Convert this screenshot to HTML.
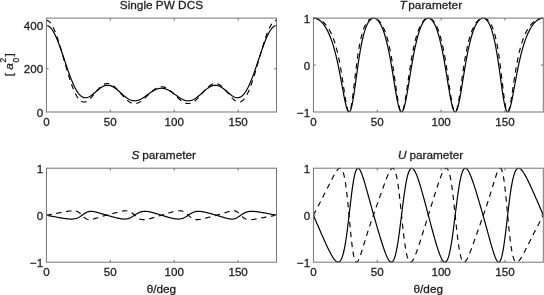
<!DOCTYPE html>
<html><head><meta charset="utf-8"><title>Spin parameters</title>
<style>
html,body{margin:0;padding:0;background:#fff;}
svg{display:block;}
text{font-family:"Liberation Sans",sans-serif;font-size:11.8px;fill:#1c1c1c;stroke:#1c1c1c;stroke-width:0.28px;}
.it{font-style:italic;}
.tl{font-size:11.6px;}
.ax{fill:none;stroke:#6e6e6e;stroke-width:0.95;}
.tk{stroke:#6e6e6e;stroke-width:1;fill:none;}
.s{fill:none;stroke:#000;stroke-width:1.2;stroke-linejoin:round;}
.d{fill:none;stroke:#000;stroke-width:1.15;stroke-dasharray:5.4 4.6;stroke-linejoin:round;}
</style></head><body>
<svg width="544" height="295" viewBox="0 0 544 295">
<rect width="544" height="295" fill="#fff"/>
<g>
<clipPath id="cdcs"><rect x="46.4" y="17.5" width="230.1" height="95.10000000000001"/></clipPath>
<g clip-path="url(#cdcs)"><path class="d" d="M46.40,20.33 L47.04,20.39 L47.68,20.58 L48.32,20.91 L48.96,21.35 L49.60,21.93 L50.23,22.62 L50.87,23.44 L51.51,24.38 L52.15,25.43 L52.79,26.59 L53.43,27.86 L54.07,29.23 L54.71,30.71 L55.35,32.27 L55.99,33.93 L56.63,35.67 L57.27,37.48 L57.91,39.37 L58.54,41.33 L59.18,43.34 L59.82,45.40 L60.46,47.51 L61.10,49.66 L61.74,51.85 L62.38,54.05 L63.02,56.28 L63.66,58.51 L64.30,60.75 L64.94,62.98 L65.57,65.21 L66.21,67.41 L66.85,69.60 L67.49,71.75 L68.13,73.86 L68.77,75.94 L69.41,77.96 L70.05,79.93 L70.69,81.83 L71.33,83.67 L71.97,85.45 L72.61,87.14 L73.25,88.76 L73.88,90.29 L74.52,91.74 L75.16,93.10 L75.80,94.37 L76.44,95.54 L77.08,96.62 L77.72,97.59 L78.36,98.48 L79.00,99.26 L79.64,99.94 L80.28,100.53 L80.91,101.01 L81.55,101.40 L82.19,101.70 L82.83,101.90 L83.47,102.02 L84.11,102.04 L84.75,101.98 L85.39,101.85 L86.03,101.63 L86.67,101.34 L87.31,100.98 L87.95,100.56 L88.58,100.07 L89.22,99.54 L89.86,98.95 L90.50,98.32 L91.14,97.65 L91.78,96.95 L92.42,96.22 L93.06,95.47 L93.70,94.71 L94.34,93.93 L94.98,93.15 L95.62,92.37 L96.25,91.59 L96.89,90.83 L97.53,90.08 L98.17,89.36 L98.81,88.66 L99.45,87.99 L100.09,87.35 L100.73,86.75 L101.37,86.20 L102.01,85.69 L102.65,85.23 L103.29,84.81 L103.92,84.46 L104.56,84.15 L105.20,83.91 L105.84,83.72 L106.48,83.59 L107.12,83.51 L107.76,83.50 L108.40,83.55 L109.04,83.66 L109.68,83.82 L110.32,84.04 L110.96,84.32 L111.59,84.64 L112.23,85.02 L112.87,85.45 L113.51,85.93 L114.15,86.44 L114.79,87.00 L115.43,87.59 L116.07,88.22 L116.71,88.87 L117.35,89.55 L117.99,90.25 L118.63,90.97 L119.26,91.70 L119.90,92.44 L120.54,93.18 L121.18,93.93 L121.82,94.67 L122.46,95.40 L123.10,96.12 L123.74,96.83 L124.38,97.52 L125.02,98.18 L125.66,98.82 L126.30,99.43 L126.94,100.00 L127.57,100.54 L128.21,101.04 L128.85,101.50 L129.49,101.92 L130.13,102.29 L130.77,102.62 L131.41,102.89 L132.05,103.12 L132.69,103.30 L133.33,103.43 L133.97,103.51 L134.60,103.53 L135.24,103.51 L135.88,103.44 L136.52,103.32 L137.16,103.14 L137.80,102.93 L138.44,102.67 L139.08,102.36 L139.72,102.02 L140.36,101.63 L141.00,101.21 L141.64,100.75 L142.28,100.27 L142.91,99.75 L143.55,99.21 L144.19,98.65 L144.83,98.07 L145.47,97.47 L146.11,96.86 L146.75,96.25 L147.39,95.62 L148.03,95.00 L148.67,94.38 L149.31,93.76 L149.94,93.15 L150.58,92.55 L151.22,91.97 L151.86,91.40 L152.50,90.86 L153.14,90.34 L153.78,89.85 L154.42,89.38 L155.06,88.95 L155.70,88.55 L156.34,88.19 L156.98,87.87 L157.62,87.58 L158.25,87.34 L158.89,87.14 L159.53,86.98 L160.17,86.87 L160.81,86.80 L161.45,86.78 L162.09,86.80 L162.73,86.87 L163.37,86.98 L164.01,87.14 L164.65,87.34 L165.28,87.58 L165.92,87.87 L166.56,88.19 L167.20,88.55 L167.84,88.95 L168.48,89.38 L169.12,89.85 L169.76,90.34 L170.40,90.86 L171.04,91.40 L171.68,91.97 L172.32,92.55 L172.96,93.15 L173.59,93.76 L174.23,94.38 L174.87,95.00 L175.51,95.62 L176.15,96.25 L176.79,96.86 L177.43,97.47 L178.07,98.07 L178.71,98.65 L179.35,99.21 L179.99,99.75 L180.62,100.27 L181.26,100.75 L181.90,101.21 L182.54,101.63 L183.18,102.02 L183.82,102.36 L184.46,102.67 L185.10,102.93 L185.74,103.14 L186.38,103.32 L187.02,103.44 L187.66,103.51 L188.30,103.53 L188.93,103.51 L189.57,103.43 L190.21,103.30 L190.85,103.12 L191.49,102.89 L192.13,102.62 L192.77,102.29 L193.41,101.92 L194.05,101.50 L194.69,101.04 L195.33,100.54 L195.97,100.00 L196.60,99.43 L197.24,98.82 L197.88,98.18 L198.52,97.52 L199.16,96.83 L199.80,96.12 L200.44,95.40 L201.08,94.67 L201.72,93.93 L202.36,93.18 L203.00,92.44 L203.64,91.70 L204.27,90.97 L204.91,90.25 L205.55,89.55 L206.19,88.87 L206.83,88.22 L207.47,87.59 L208.11,87.00 L208.75,86.44 L209.39,85.93 L210.03,85.45 L210.67,85.02 L211.31,84.64 L211.94,84.32 L212.58,84.04 L213.22,83.82 L213.86,83.66 L214.50,83.55 L215.14,83.50 L215.78,83.51 L216.42,83.59 L217.06,83.72 L217.70,83.91 L218.34,84.15 L218.97,84.46 L219.61,84.81 L220.25,85.23 L220.89,85.69 L221.53,86.20 L222.17,86.75 L222.81,87.35 L223.45,87.99 L224.09,88.66 L224.73,89.36 L225.37,90.08 L226.01,90.83 L226.65,91.59 L227.28,92.37 L227.92,93.15 L228.56,93.93 L229.20,94.71 L229.84,95.47 L230.48,96.22 L231.12,96.95 L231.76,97.65 L232.40,98.32 L233.04,98.95 L233.68,99.54 L234.31,100.07 L234.95,100.56 L235.59,100.98 L236.23,101.34 L236.87,101.63 L237.51,101.85 L238.15,101.98 L238.79,102.04 L239.43,102.02 L240.07,101.90 L240.71,101.70 L241.35,101.40 L241.98,101.01 L242.62,100.53 L243.26,99.94 L243.90,99.26 L244.54,98.48 L245.18,97.59 L245.82,96.62 L246.46,95.54 L247.10,94.37 L247.74,93.10 L248.38,91.74 L249.02,90.29 L249.66,88.76 L250.29,87.14 L250.93,85.45 L251.57,83.67 L252.21,81.83 L252.85,79.93 L253.49,77.96 L254.13,75.94 L254.77,73.86 L255.41,71.75 L256.05,69.60 L256.69,67.41 L257.32,65.21 L257.96,62.98 L258.60,60.75 L259.24,58.51 L259.88,56.28 L260.52,54.05 L261.16,51.85 L261.80,49.66 L262.44,47.51 L263.08,45.40 L263.72,43.34 L264.36,41.33 L264.99,39.37 L265.63,37.48 L266.27,35.67 L266.91,33.93 L267.55,32.27 L268.19,30.71 L268.83,29.23 L269.47,27.86 L270.11,26.59 L270.75,25.43 L271.39,24.38 L272.03,23.44 L272.66,22.62 L273.30,21.93 L273.94,21.35 L274.58,20.91 L275.22,20.58 L275.86,20.39 L276.50,20.33"/><path class="s" d="M46.40,25.52 L47.04,25.57 L47.68,25.73 L48.32,26.00 L48.96,26.37 L49.60,26.84 L50.23,27.42 L50.87,28.10 L51.51,28.88 L52.15,29.75 L52.79,30.72 L53.43,31.78 L54.07,32.92 L54.71,34.15 L55.35,35.46 L55.99,36.85 L56.63,38.30 L57.27,39.83 L57.91,41.41 L58.54,43.05 L59.18,44.75 L59.82,46.49 L60.46,48.27 L61.10,50.09 L61.74,51.93 L62.38,53.81 L63.02,55.70 L63.66,57.61 L64.30,59.52 L64.94,61.43 L65.57,63.35 L66.21,65.25 L66.85,67.14 L67.49,69.00 L68.13,70.84 L68.77,72.65 L69.41,74.43 L70.05,76.16 L70.69,77.85 L71.33,79.49 L71.97,81.08 L72.61,82.60 L73.25,84.07 L73.88,85.47 L74.52,86.81 L75.16,88.07 L75.80,89.26 L76.44,90.38 L77.08,91.41 L77.72,92.37 L78.36,93.26 L79.00,94.06 L79.64,94.78 L80.28,95.42 L80.91,95.98 L81.55,96.46 L82.19,96.86 L82.83,97.18 L83.47,97.43 L84.11,97.61 L84.75,97.71 L85.39,97.75 L86.03,97.72 L86.67,97.62 L87.31,97.47 L87.95,97.26 L88.58,97.00 L89.22,96.69 L89.86,96.33 L90.50,95.94 L91.14,95.51 L91.78,95.05 L92.42,94.56 L93.06,94.05 L93.70,93.52 L94.34,92.97 L94.98,92.42 L95.62,91.86 L96.25,91.31 L96.89,90.75 L97.53,90.21 L98.17,89.68 L98.81,89.16 L99.45,88.66 L100.09,88.19 L100.73,87.74 L101.37,87.33 L102.01,86.94 L102.65,86.59 L103.29,86.28 L103.92,86.00 L104.56,85.77 L105.20,85.58 L105.84,85.44 L106.48,85.33 L107.12,85.28 L107.76,85.27 L108.40,85.30 L109.04,85.38 L109.68,85.50 L110.32,85.67 L110.96,85.88 L111.59,86.13 L112.23,86.42 L112.87,86.75 L113.51,87.11 L114.15,87.51 L114.79,87.93 L115.43,88.39 L116.07,88.87 L116.71,89.38 L117.35,89.90 L117.99,90.44 L118.63,91.00 L119.26,91.56 L119.90,92.14 L120.54,92.71 L121.18,93.29 L121.82,93.87 L122.46,94.43 L123.10,95.00 L123.74,95.54 L124.38,96.08 L125.02,96.59 L125.66,97.09 L126.30,97.56 L126.94,98.01 L127.57,98.43 L128.21,98.82 L128.85,99.18 L129.49,99.51 L130.13,99.80 L130.77,100.06 L131.41,100.28 L132.05,100.46 L132.69,100.60 L133.33,100.70 L133.97,100.77 L134.60,100.80 L135.24,100.78 L135.88,100.73 L136.52,100.65 L137.16,100.52 L137.80,100.36 L138.44,100.17 L139.08,99.94 L139.72,99.68 L140.36,99.39 L141.00,99.07 L141.64,98.73 L142.28,98.36 L142.91,97.98 L143.55,97.57 L144.19,97.15 L144.83,96.71 L145.47,96.26 L146.11,95.80 L146.75,95.34 L147.39,94.87 L148.03,94.40 L148.67,93.93 L149.31,93.46 L149.94,93.00 L150.58,92.55 L151.22,92.11 L151.86,91.69 L152.50,91.28 L153.14,90.89 L153.78,90.52 L154.42,90.17 L155.06,89.84 L155.70,89.55 L156.34,89.27 L156.98,89.03 L157.62,88.82 L158.25,88.63 L158.89,88.48 L159.53,88.36 L160.17,88.28 L160.81,88.23 L161.45,88.21 L162.09,88.23 L162.73,88.28 L163.37,88.36 L164.01,88.48 L164.65,88.63 L165.28,88.82 L165.92,89.03 L166.56,89.27 L167.20,89.55 L167.84,89.84 L168.48,90.17 L169.12,90.52 L169.76,90.89 L170.40,91.28 L171.04,91.69 L171.68,92.11 L172.32,92.55 L172.96,93.00 L173.59,93.46 L174.23,93.93 L174.87,94.40 L175.51,94.87 L176.15,95.34 L176.79,95.80 L177.43,96.26 L178.07,96.71 L178.71,97.15 L179.35,97.57 L179.99,97.98 L180.62,98.36 L181.26,98.73 L181.90,99.07 L182.54,99.39 L183.18,99.68 L183.82,99.94 L184.46,100.17 L185.10,100.36 L185.74,100.52 L186.38,100.65 L187.02,100.73 L187.66,100.78 L188.30,100.80 L188.93,100.77 L189.57,100.70 L190.21,100.60 L190.85,100.46 L191.49,100.28 L192.13,100.06 L192.77,99.80 L193.41,99.51 L194.05,99.18 L194.69,98.82 L195.33,98.43 L195.97,98.01 L196.60,97.56 L197.24,97.09 L197.88,96.59 L198.52,96.08 L199.16,95.54 L199.80,95.00 L200.44,94.43 L201.08,93.87 L201.72,93.29 L202.36,92.71 L203.00,92.14 L203.64,91.56 L204.27,91.00 L204.91,90.44 L205.55,89.90 L206.19,89.38 L206.83,88.87 L207.47,88.39 L208.11,87.93 L208.75,87.51 L209.39,87.11 L210.03,86.75 L210.67,86.42 L211.31,86.13 L211.94,85.88 L212.58,85.67 L213.22,85.50 L213.86,85.38 L214.50,85.30 L215.14,85.27 L215.78,85.28 L216.42,85.33 L217.06,85.44 L217.70,85.58 L218.34,85.77 L218.97,86.00 L219.61,86.28 L220.25,86.59 L220.89,86.94 L221.53,87.33 L222.17,87.74 L222.81,88.19 L223.45,88.66 L224.09,89.16 L224.73,89.68 L225.37,90.21 L226.01,90.75 L226.65,91.31 L227.28,91.86 L227.92,92.42 L228.56,92.97 L229.20,93.52 L229.84,94.05 L230.48,94.56 L231.12,95.05 L231.76,95.51 L232.40,95.94 L233.04,96.33 L233.68,96.69 L234.31,97.00 L234.95,97.26 L235.59,97.47 L236.23,97.62 L236.87,97.72 L237.51,97.75 L238.15,97.71 L238.79,97.61 L239.43,97.43 L240.07,97.18 L240.71,96.86 L241.35,96.46 L241.98,95.98 L242.62,95.42 L243.26,94.78 L243.90,94.06 L244.54,93.26 L245.18,92.37 L245.82,91.41 L246.46,90.38 L247.10,89.26 L247.74,88.07 L248.38,86.81 L249.02,85.47 L249.66,84.07 L250.29,82.60 L250.93,81.08 L251.57,79.49 L252.21,77.85 L252.85,76.16 L253.49,74.43 L254.13,72.65 L254.77,70.84 L255.41,69.00 L256.05,67.14 L256.69,65.25 L257.32,63.35 L257.96,61.43 L258.60,59.52 L259.24,57.61 L259.88,55.70 L260.52,53.81 L261.16,51.93 L261.80,50.09 L262.44,48.27 L263.08,46.49 L263.72,44.75 L264.36,43.05 L264.99,41.41 L265.63,39.83 L266.27,38.30 L266.91,36.85 L267.55,35.46 L268.19,34.15 L268.83,32.92 L269.47,31.78 L270.11,30.72 L270.75,29.75 L271.39,28.88 L272.03,28.10 L272.66,27.42 L273.30,26.84 L273.94,26.37 L274.58,26.00 L275.22,25.73 L275.86,25.57 L276.50,25.52"/></g>
<rect class="ax" x="46.4" y="18.1" width="230.1" height="93.9"/>
<text x="46.40" y="125.7" text-anchor="middle" class="tl">0</text>
<path class="tk" d="M110.32,112.0v-2.3 M110.32,18.1v2.3"/>
<text x="110.32" y="125.7" text-anchor="middle" class="tl">50</text>
<path class="tk" d="M174.23,112.0v-2.3 M174.23,18.1v2.3"/>
<text x="174.23" y="125.7" text-anchor="middle" class="tl">100</text>
<path class="tk" d="M238.15,112.0v-2.3 M238.15,18.1v2.3"/>
<text x="238.15" y="125.7" text-anchor="middle" class="tl">150</text>
<text x="43.1" y="116.5" text-anchor="end" class="tl">0</text>
<path class="tk" d="M46.4,68.76h2.3 M276.5,68.76h-2.3"/>
<text x="43.1" y="73.3" text-anchor="end" class="tl">200</text>
<path class="tk" d="M46.4,25.52h2.3 M276.5,25.52h-2.3"/>
<text x="43.1" y="30.0" text-anchor="end" class="tl">400</text>
</g>
<g>
<clipPath id="cT"><rect x="313.4" y="17.5" width="229.89999999999998" height="95.10000000000001"/></clipPath>
<g clip-path="url(#cT)"><path class="d" d="M313.40,18.10 L314.04,18.12 L314.68,18.16 L315.32,18.24 L315.95,18.35 L316.59,18.50 L317.23,18.67 L317.87,18.88 L318.51,19.12 L319.15,19.40 L319.79,19.71 L320.42,20.06 L321.06,20.45 L321.70,20.87 L322.34,21.34 L322.98,21.85 L323.62,22.40 L324.26,23.00 L324.89,23.65 L325.53,24.35 L326.17,25.10 L326.81,25.91 L327.45,26.77 L328.09,27.71 L328.73,28.71 L329.37,29.78 L330.00,30.93 L330.64,32.16 L331.28,33.49 L331.92,34.90 L332.56,36.43 L333.20,38.06 L333.84,39.81 L334.47,41.68 L335.11,43.69 L335.75,45.85 L336.39,48.17 L337.03,50.65 L337.67,53.31 L338.31,56.15 L338.94,59.19 L339.58,62.42 L340.22,65.86 L340.86,69.49 L341.50,73.32 L342.14,77.31 L342.78,81.45 L343.41,85.68 L344.05,89.94 L344.69,94.16 L345.33,98.24 L345.97,102.04 L346.61,105.43 L347.25,108.26 L347.88,110.39 L348.52,111.66 L349.16,111.98 L349.80,111.29 L350.44,109.58 L351.08,106.89 L351.72,103.33 L352.36,99.04 L352.99,94.20 L353.63,88.99 L354.27,83.57 L354.91,78.10 L355.55,72.72 L356.19,67.51 L356.83,62.55 L357.46,57.89 L358.10,53.56 L358.74,49.56 L359.38,45.90 L360.02,42.56 L360.66,39.53 L361.30,36.80 L361.93,34.33 L362.57,32.12 L363.21,30.14 L363.85,28.37 L364.49,26.79 L365.13,25.39 L365.77,24.15 L366.40,23.06 L367.04,22.10 L367.68,21.26 L368.32,20.54 L368.96,19.93 L369.60,19.42 L370.24,18.99 L370.88,18.66 L371.51,18.40 L372.15,18.23 L372.79,18.13 L373.43,18.10 L374.07,18.15 L374.71,18.26 L375.35,18.45 L375.98,18.70 L376.62,19.03 L377.26,19.43 L377.90,19.90 L378.54,20.45 L379.18,21.08 L379.82,21.80 L380.45,22.60 L381.09,23.50 L381.73,24.49 L382.37,25.59 L383.01,26.80 L383.65,28.13 L384.29,29.58 L384.92,31.17 L385.56,32.91 L386.20,34.80 L386.84,36.86 L387.48,39.09 L388.12,41.51 L388.76,44.13 L389.39,46.95 L390.03,49.99 L390.67,53.25 L391.31,56.72 L391.95,60.42 L392.59,64.32 L393.23,68.42 L393.86,72.69 L394.50,77.09 L395.14,81.58 L395.78,86.08 L396.42,90.53 L397.06,94.83 L397.70,98.88 L398.34,102.56 L398.97,105.78 L399.61,108.41 L400.25,110.37 L400.89,111.58 L401.53,112.00 L402.17,111.61 L402.81,110.44 L403.44,108.53 L404.08,105.96 L404.72,102.82 L405.36,99.21 L406.00,95.25 L406.64,91.04 L407.28,86.68 L407.91,82.25 L408.55,77.83 L409.19,73.47 L409.83,69.22 L410.47,65.13 L411.11,61.21 L411.75,57.47 L412.38,53.94 L413.02,50.61 L413.66,47.49 L414.30,44.57 L414.94,41.85 L415.58,39.32 L416.22,36.97 L416.85,34.80 L417.49,32.80 L418.13,30.95 L418.77,29.26 L419.41,27.71 L420.05,26.30 L420.69,25.01 L421.33,23.86 L421.96,22.82 L422.60,21.89 L423.24,21.08 L423.88,20.36 L424.52,19.76 L425.16,19.24 L425.80,18.83 L426.43,18.51 L427.07,18.28 L427.71,18.15 L428.35,18.10 L428.99,18.15 L429.63,18.28 L430.27,18.51 L430.90,18.83 L431.54,19.24 L432.18,19.76 L432.82,20.36 L433.46,21.08 L434.10,21.89 L434.74,22.82 L435.37,23.86 L436.01,25.01 L436.65,26.30 L437.29,27.71 L437.93,29.26 L438.57,30.95 L439.21,32.80 L439.84,34.80 L440.48,36.97 L441.12,39.32 L441.76,41.85 L442.40,44.57 L443.04,47.49 L443.68,50.61 L444.32,53.94 L444.95,57.47 L445.59,61.21 L446.23,65.13 L446.87,69.22 L447.51,73.47 L448.15,77.83 L448.79,82.25 L449.42,86.68 L450.06,91.04 L450.70,95.25 L451.34,99.21 L451.98,102.82 L452.62,105.96 L453.26,108.53 L453.89,110.44 L454.53,111.61 L455.17,112.00 L455.81,111.58 L456.45,110.37 L457.09,108.41 L457.73,105.78 L458.36,102.56 L459.00,98.88 L459.64,94.83 L460.28,90.53 L460.92,86.08 L461.56,81.58 L462.20,77.09 L462.83,72.69 L463.47,68.42 L464.11,64.32 L464.75,60.42 L465.39,56.72 L466.03,53.25 L466.67,49.99 L467.31,46.95 L467.94,44.13 L468.58,41.51 L469.22,39.09 L469.86,36.86 L470.50,34.80 L471.14,32.91 L471.78,31.17 L472.41,29.58 L473.05,28.13 L473.69,26.80 L474.33,25.59 L474.97,24.49 L475.61,23.50 L476.25,22.60 L476.88,21.80 L477.52,21.08 L478.16,20.45 L478.80,19.90 L479.44,19.43 L480.08,19.03 L480.72,18.70 L481.35,18.45 L481.99,18.26 L482.63,18.15 L483.27,18.10 L483.91,18.13 L484.55,18.23 L485.19,18.40 L485.82,18.66 L486.46,18.99 L487.10,19.42 L487.74,19.93 L488.38,20.54 L489.02,21.26 L489.66,22.10 L490.30,23.06 L490.93,24.15 L491.57,25.39 L492.21,26.79 L492.85,28.37 L493.49,30.14 L494.13,32.12 L494.77,34.33 L495.40,36.80 L496.04,39.53 L496.68,42.56 L497.32,45.90 L497.96,49.56 L498.60,53.56 L499.24,57.89 L499.87,62.55 L500.51,67.51 L501.15,72.72 L501.79,78.10 L502.43,83.57 L503.07,88.99 L503.71,94.20 L504.34,99.04 L504.98,103.33 L505.62,106.89 L506.26,109.58 L506.90,111.29 L507.54,111.98 L508.18,111.66 L508.81,110.39 L509.45,108.26 L510.09,105.43 L510.73,102.04 L511.37,98.24 L512.01,94.16 L512.65,89.94 L513.29,85.68 L513.92,81.45 L514.56,77.31 L515.20,73.32 L515.84,69.49 L516.48,65.86 L517.12,62.42 L517.76,59.19 L518.39,56.15 L519.03,53.31 L519.67,50.65 L520.31,48.17 L520.95,45.85 L521.59,43.69 L522.23,41.68 L522.86,39.81 L523.50,38.06 L524.14,36.43 L524.78,34.90 L525.42,33.49 L526.06,32.16 L526.70,30.93 L527.33,29.78 L527.97,28.71 L528.61,27.71 L529.25,26.77 L529.89,25.91 L530.53,25.10 L531.17,24.35 L531.80,23.65 L532.44,23.00 L533.08,22.40 L533.72,21.85 L534.36,21.34 L535.00,20.87 L535.64,20.45 L536.28,20.06 L536.91,19.71 L537.55,19.40 L538.19,19.12 L538.83,18.88 L539.47,18.67 L540.11,18.50 L540.75,18.35 L541.38,18.24 L542.02,18.16 L542.66,18.12 L543.30,18.10"/><path class="s" d="M313.40,18.10 L314.04,18.12 L314.68,18.19 L315.32,18.31 L315.95,18.48 L316.59,18.69 L317.23,18.95 L317.87,19.27 L318.51,19.63 L319.15,20.04 L319.79,20.50 L320.42,21.02 L321.06,21.59 L321.70,22.21 L322.34,22.89 L322.98,23.63 L323.62,24.43 L324.26,25.29 L324.89,26.21 L325.53,27.21 L326.17,28.27 L326.81,29.40 L327.45,30.60 L328.09,31.89 L328.73,33.25 L329.37,34.70 L330.00,36.24 L330.64,37.87 L331.28,39.59 L331.92,41.42 L332.56,43.35 L333.20,45.39 L333.84,47.54 L334.47,49.80 L335.11,52.19 L335.75,54.69 L336.39,57.33 L337.03,60.08 L337.67,62.96 L338.31,65.97 L338.94,69.09 L339.58,72.31 L340.22,75.64 L340.86,79.05 L341.50,82.51 L342.14,86.01 L342.78,89.51 L343.41,92.96 L344.05,96.32 L344.69,99.53 L345.33,102.52 L345.97,105.23 L346.61,107.58 L347.25,109.49 L347.88,110.91 L348.52,111.76 L349.16,111.99 L349.80,111.58 L350.44,110.50 L351.08,108.76 L351.72,106.39 L352.36,103.45 L352.99,100.00 L353.63,96.12 L354.27,91.91 L354.91,87.46 L355.55,82.85 L356.19,78.17 L356.83,73.50 L357.46,68.91 L358.10,64.44 L358.74,60.13 L359.38,56.03 L360.02,52.15 L360.66,48.50 L361.30,45.10 L361.93,41.94 L362.57,39.02 L363.21,36.34 L363.85,33.89 L364.49,31.66 L365.13,29.63 L365.77,27.81 L366.40,26.17 L367.04,24.71 L367.68,23.42 L368.32,22.29 L368.96,21.31 L369.60,20.48 L370.24,19.77 L370.88,19.20 L371.51,18.75 L372.15,18.42 L372.79,18.21 L373.43,18.11 L374.07,18.12 L374.71,18.23 L375.35,18.46 L375.98,18.78 L376.62,19.22 L377.26,19.76 L377.90,20.41 L378.54,21.16 L379.18,22.03 L379.82,23.02 L380.45,24.12 L381.09,25.34 L381.73,26.69 L382.37,28.17 L383.01,29.79 L383.65,31.54 L384.29,33.44 L384.92,35.49 L385.56,37.70 L386.20,40.06 L386.84,42.59 L387.48,45.29 L388.12,48.15 L388.76,51.18 L389.39,54.38 L390.03,57.73 L390.67,61.24 L391.31,64.89 L391.95,68.66 L392.59,72.53 L393.23,76.47 L393.86,80.45 L394.50,84.42 L395.14,88.35 L395.78,92.17 L396.42,95.82 L397.06,99.26 L397.70,102.40 L398.34,105.19 L398.97,107.57 L399.61,109.48 L400.25,110.87 L400.89,111.72 L401.53,112.00 L402.17,111.71 L402.81,110.85 L403.44,109.45 L404.08,107.54 L404.72,105.18 L405.36,102.41 L406.00,99.29 L406.64,95.89 L407.28,92.27 L407.91,88.48 L408.55,84.58 L409.19,80.63 L409.83,76.67 L410.47,72.73 L411.11,68.85 L411.75,65.06 L412.38,61.37 L413.02,57.82 L413.66,54.41 L414.30,51.14 L414.94,48.04 L415.58,45.09 L416.22,42.31 L416.85,39.70 L417.49,37.24 L418.13,34.96 L418.77,32.83 L419.41,30.85 L420.05,29.04 L420.69,27.37 L421.33,25.85 L421.96,24.48 L422.60,23.24 L423.24,22.15 L423.88,21.19 L424.52,20.36 L425.16,19.67 L425.80,19.10 L426.43,18.66 L427.07,18.35 L427.71,18.16 L428.35,18.10 L428.99,18.16 L429.63,18.35 L430.27,18.66 L430.90,19.10 L431.54,19.67 L432.18,20.36 L432.82,21.19 L433.46,22.15 L434.10,23.24 L434.74,24.48 L435.37,25.85 L436.01,27.37 L436.65,29.04 L437.29,30.85 L437.93,32.83 L438.57,34.96 L439.21,37.24 L439.84,39.70 L440.48,42.31 L441.12,45.09 L441.76,48.04 L442.40,51.14 L443.04,54.41 L443.68,57.82 L444.32,61.37 L444.95,65.06 L445.59,68.85 L446.23,72.73 L446.87,76.67 L447.51,80.63 L448.15,84.58 L448.79,88.48 L449.42,92.27 L450.06,95.89 L450.70,99.29 L451.34,102.41 L451.98,105.18 L452.62,107.54 L453.26,109.45 L453.89,110.85 L454.53,111.71 L455.17,112.00 L455.81,111.72 L456.45,110.87 L457.09,109.48 L457.73,107.57 L458.36,105.19 L459.00,102.40 L459.64,99.26 L460.28,95.82 L460.92,92.17 L461.56,88.35 L462.20,84.42 L462.83,80.45 L463.47,76.47 L464.11,72.53 L464.75,68.66 L465.39,64.89 L466.03,61.24 L466.67,57.73 L467.31,54.38 L467.94,51.18 L468.58,48.15 L469.22,45.29 L469.86,42.59 L470.50,40.06 L471.14,37.70 L471.78,35.49 L472.41,33.44 L473.05,31.54 L473.69,29.79 L474.33,28.17 L474.97,26.69 L475.61,25.34 L476.25,24.12 L476.88,23.02 L477.52,22.03 L478.16,21.16 L478.80,20.41 L479.44,19.76 L480.08,19.22 L480.72,18.78 L481.35,18.46 L481.99,18.23 L482.63,18.12 L483.27,18.11 L483.91,18.21 L484.55,18.42 L485.19,18.75 L485.82,19.20 L486.46,19.77 L487.10,20.48 L487.74,21.31 L488.38,22.29 L489.02,23.42 L489.66,24.71 L490.30,26.17 L490.93,27.81 L491.57,29.63 L492.21,31.66 L492.85,33.89 L493.49,36.34 L494.13,39.02 L494.77,41.94 L495.40,45.10 L496.04,48.50 L496.68,52.15 L497.32,56.03 L497.96,60.13 L498.60,64.44 L499.24,68.91 L499.87,73.50 L500.51,78.17 L501.15,82.85 L501.79,87.46 L502.43,91.91 L503.07,96.12 L503.71,100.00 L504.34,103.45 L504.98,106.39 L505.62,108.76 L506.26,110.50 L506.90,111.58 L507.54,111.99 L508.18,111.76 L508.81,110.91 L509.45,109.49 L510.09,107.58 L510.73,105.23 L511.37,102.52 L512.01,99.53 L512.65,96.32 L513.29,92.96 L513.92,89.51 L514.56,86.01 L515.20,82.51 L515.84,79.05 L516.48,75.64 L517.12,72.31 L517.76,69.09 L518.39,65.97 L519.03,62.96 L519.67,60.08 L520.31,57.33 L520.95,54.69 L521.59,52.19 L522.23,49.80 L522.86,47.54 L523.50,45.39 L524.14,43.35 L524.78,41.42 L525.42,39.59 L526.06,37.87 L526.70,36.24 L527.33,34.70 L527.97,33.25 L528.61,31.89 L529.25,30.60 L529.89,29.40 L530.53,28.27 L531.17,27.21 L531.80,26.21 L532.44,25.29 L533.08,24.43 L533.72,23.63 L534.36,22.89 L535.00,22.21 L535.64,21.59 L536.28,21.02 L536.91,20.50 L537.55,20.04 L538.19,19.63 L538.83,19.27 L539.47,18.95 L540.11,18.69 L540.75,18.48 L541.38,18.31 L542.02,18.19 L542.66,18.12 L543.30,18.10"/></g>
<rect class="ax" x="313.4" y="18.1" width="229.9" height="93.9"/>
<text x="313.40" y="125.7" text-anchor="middle" class="tl">0</text>
<path class="tk" d="M377.26,112.0v-2.3 M377.26,18.1v2.3"/>
<text x="377.26" y="125.7" text-anchor="middle" class="tl">50</text>
<path class="tk" d="M441.12,112.0v-2.3 M441.12,18.1v2.3"/>
<text x="441.12" y="125.7" text-anchor="middle" class="tl">100</text>
<path class="tk" d="M504.98,112.0v-2.3 M504.98,18.1v2.3"/>
<text x="504.98" y="125.7" text-anchor="middle" class="tl">150</text>
<text x="310.1" y="116.5" text-anchor="end" class="tl">−1</text>
<path class="tk" d="M313.4,65.05h2.3 M543.3,65.05h-2.3"/>
<text x="310.1" y="69.5" text-anchor="end" class="tl">0</text>
<text x="310.1" y="22.6" text-anchor="end" class="tl">1</text>
</g>
<g>
<clipPath id="cS"><rect x="46.4" y="167.6" width="230.1" height="95.2"/></clipPath>
<g clip-path="url(#cS)"><path class="d" d="M46.40,215.20 L47.04,215.08 L47.68,214.97 L48.32,214.85 L48.96,214.74 L49.60,214.62 L50.23,214.51 L50.87,214.39 L51.51,214.27 L52.15,214.16 L52.79,214.04 L53.43,213.92 L54.07,213.81 L54.71,213.69 L55.35,213.57 L55.99,213.45 L56.63,213.33 L57.27,213.21 L57.91,213.09 L58.54,212.97 L59.18,212.85 L59.82,212.73 L60.46,212.61 L61.10,212.49 L61.74,212.37 L62.38,212.25 L63.02,212.13 L63.66,212.01 L64.30,211.89 L64.94,211.78 L65.57,211.66 L66.21,211.55 L66.85,211.44 L67.49,211.33 L68.13,211.22 L68.77,211.13 L69.41,211.03 L70.05,210.95 L70.69,210.88 L71.33,210.82 L71.97,210.77 L72.61,210.74 L73.25,210.74 L73.88,210.76 L74.52,210.80 L75.16,210.89 L75.80,211.02 L76.44,211.19 L77.08,211.41 L77.72,211.70 L78.36,212.04 L79.00,212.45 L79.64,212.92 L80.28,213.45 L80.91,214.04 L81.55,214.66 L82.19,215.32 L82.83,215.97 L83.47,216.62 L84.11,217.23 L84.75,217.79 L85.39,218.28 L86.03,218.70 L86.67,219.04 L87.31,219.30 L87.95,219.49 L88.58,219.61 L89.22,219.66 L89.86,219.66 L90.50,219.61 L91.14,219.53 L91.78,219.41 L92.42,219.28 L93.06,219.12 L93.70,218.95 L94.34,218.77 L94.98,218.58 L95.62,218.38 L96.25,218.19 L96.89,217.99 L97.53,217.79 L98.17,217.59 L98.81,217.39 L99.45,217.20 L100.09,217.00 L100.73,216.81 L101.37,216.62 L102.01,216.43 L102.65,216.25 L103.29,216.07 L103.92,215.89 L104.56,215.71 L105.20,215.53 L105.84,215.35 L106.48,215.18 L107.12,215.00 L107.76,214.83 L108.40,214.66 L109.04,214.49 L109.68,214.32 L110.32,214.15 L110.96,213.97 L111.59,213.80 L112.23,213.63 L112.87,213.46 L113.51,213.29 L114.15,213.12 L114.79,212.95 L115.43,212.78 L116.07,212.61 L116.71,212.44 L117.35,212.27 L117.99,212.11 L118.63,211.95 L119.26,211.79 L119.90,211.63 L120.54,211.48 L121.18,211.34 L121.82,211.20 L122.46,211.08 L123.10,210.97 L123.74,210.88 L124.38,210.81 L125.02,210.76 L125.66,210.74 L126.30,210.75 L126.94,210.79 L127.57,210.88 L128.21,211.02 L128.85,211.21 L129.49,211.45 L130.13,211.75 L130.77,212.10 L131.41,212.52 L132.05,212.98 L132.69,213.49 L133.33,214.03 L133.97,214.60 L134.60,215.19 L135.24,215.77 L135.88,216.34 L136.52,216.88 L137.16,217.39 L137.80,217.85 L138.44,218.26 L139.08,218.62 L139.72,218.92 L140.36,219.16 L141.00,219.35 L141.64,219.50 L142.28,219.59 L142.91,219.65 L143.55,219.66 L144.19,219.65 L144.83,219.61 L145.47,219.54 L146.11,219.45 L146.75,219.34 L147.39,219.22 L148.03,219.08 L148.67,218.93 L149.31,218.78 L149.94,218.61 L150.58,218.44 L151.22,218.27 L151.86,218.09 L152.50,217.91 L153.14,217.72 L153.78,217.53 L154.42,217.34 L155.06,217.15 L155.70,216.96 L156.34,216.76 L156.98,216.57 L157.62,216.38 L158.25,216.18 L158.89,215.98 L159.53,215.79 L160.17,215.59 L160.81,215.40 L161.45,215.20 L162.09,215.00 L162.73,214.81 L163.37,214.61 L164.01,214.42 L164.65,214.22 L165.28,214.02 L165.92,213.83 L166.56,213.64 L167.20,213.44 L167.84,213.25 L168.48,213.06 L169.12,212.87 L169.76,212.68 L170.40,212.49 L171.04,212.31 L171.68,212.13 L172.32,211.96 L172.96,211.79 L173.59,211.62 L174.23,211.47 L174.87,211.32 L175.51,211.18 L176.15,211.06 L176.79,210.95 L177.43,210.86 L178.07,210.79 L178.71,210.75 L179.35,210.74 L179.99,210.75 L180.62,210.81 L181.26,210.90 L181.90,211.05 L182.54,211.24 L183.18,211.48 L183.82,211.78 L184.46,212.14 L185.10,212.55 L185.74,213.01 L186.38,213.52 L187.02,214.06 L187.66,214.63 L188.30,215.21 L188.93,215.80 L189.57,216.37 L190.21,216.91 L190.85,217.42 L191.49,217.88 L192.13,218.30 L192.77,218.65 L193.41,218.95 L194.05,219.19 L194.69,219.38 L195.33,219.52 L195.97,219.61 L196.60,219.65 L197.24,219.66 L197.88,219.64 L198.52,219.59 L199.16,219.52 L199.80,219.43 L200.44,219.32 L201.08,219.20 L201.72,219.06 L202.36,218.92 L203.00,218.77 L203.64,218.61 L204.27,218.45 L204.91,218.29 L205.55,218.13 L206.19,217.96 L206.83,217.79 L207.47,217.62 L208.11,217.45 L208.75,217.28 L209.39,217.11 L210.03,216.94 L210.67,216.77 L211.31,216.60 L211.94,216.43 L212.58,216.25 L213.22,216.08 L213.86,215.91 L214.50,215.74 L215.14,215.57 L215.78,215.40 L216.42,215.22 L217.06,215.05 L217.70,214.87 L218.34,214.69 L218.97,214.51 L219.61,214.33 L220.25,214.15 L220.89,213.97 L221.53,213.78 L222.17,213.59 L222.81,213.40 L223.45,213.20 L224.09,213.01 L224.73,212.81 L225.37,212.61 L226.01,212.41 L226.65,212.21 L227.28,212.02 L227.92,211.82 L228.56,211.63 L229.20,211.45 L229.84,211.28 L230.48,211.12 L231.12,210.99 L231.76,210.87 L232.40,210.79 L233.04,210.74 L233.68,210.74 L234.31,210.79 L234.95,210.91 L235.59,211.10 L236.23,211.36 L236.87,211.70 L237.51,212.12 L238.15,212.61 L238.79,213.17 L239.43,213.78 L240.07,214.43 L240.71,215.08 L241.35,215.74 L241.98,216.36 L242.62,216.95 L243.26,217.48 L243.90,217.95 L244.54,218.36 L245.18,218.70 L245.82,218.99 L246.46,219.21 L247.10,219.38 L247.74,219.51 L248.38,219.60 L249.02,219.64 L249.66,219.66 L250.29,219.66 L250.93,219.63 L251.57,219.58 L252.21,219.52 L252.85,219.45 L253.49,219.37 L254.13,219.27 L254.77,219.18 L255.41,219.07 L256.05,218.96 L256.69,218.85 L257.32,218.74 L257.96,218.62 L258.60,218.51 L259.24,218.39 L259.88,218.27 L260.52,218.15 L261.16,218.03 L261.80,217.91 L262.44,217.79 L263.08,217.67 L263.72,217.55 L264.36,217.43 L264.99,217.31 L265.63,217.19 L266.27,217.07 L266.91,216.95 L267.55,216.83 L268.19,216.71 L268.83,216.59 L269.47,216.48 L270.11,216.36 L270.75,216.24 L271.39,216.13 L272.03,216.01 L272.66,215.89 L273.30,215.78 L273.94,215.66 L274.58,215.55 L275.22,215.43 L275.86,215.32 L276.50,215.20"/><path class="s" d="M46.40,215.20 L47.04,215.32 L47.68,215.44 L48.32,215.57 L48.96,215.69 L49.60,215.81 L50.23,215.93 L50.87,216.05 L51.51,216.17 L52.15,216.30 L52.79,216.42 L53.43,216.54 L54.07,216.66 L54.71,216.78 L55.35,216.90 L55.99,217.01 L56.63,217.13 L57.27,217.25 L57.91,217.37 L58.54,217.48 L59.18,217.60 L59.82,217.71 L60.46,217.82 L61.10,217.93 L61.74,218.04 L62.38,218.14 L63.02,218.24 L63.66,218.34 L64.30,218.44 L64.94,218.53 L65.57,218.62 L66.21,218.70 L66.85,218.78 L67.49,218.85 L68.13,218.91 L68.77,218.96 L69.41,219.00 L70.05,219.03 L70.69,219.05 L71.33,219.05 L71.97,219.04 L72.61,219.01 L73.25,218.95 L73.88,218.88 L74.52,218.78 L75.16,218.65 L75.80,218.49 L76.44,218.30 L77.08,218.07 L77.72,217.82 L78.36,217.52 L79.00,217.19 L79.64,216.83 L80.28,216.44 L80.91,216.03 L81.55,215.59 L82.19,215.14 L82.83,214.68 L83.47,214.23 L84.11,213.79 L84.75,213.37 L85.39,212.98 L86.03,212.63 L86.67,212.31 L87.31,212.04 L87.95,211.81 L88.58,211.63 L89.22,211.50 L89.86,211.41 L90.50,211.36 L91.14,211.35 L91.78,211.37 L92.42,211.42 L93.06,211.49 L93.70,211.59 L94.34,211.71 L94.98,211.85 L95.62,211.99 L96.25,212.15 L96.89,212.32 L97.53,212.49 L98.17,212.67 L98.81,212.85 L99.45,213.04 L100.09,213.23 L100.73,213.42 L101.37,213.61 L102.01,213.80 L102.65,213.99 L103.29,214.18 L103.92,214.37 L104.56,214.56 L105.20,214.75 L105.84,214.93 L106.48,215.12 L107.12,215.31 L107.76,215.49 L108.40,215.67 L109.04,215.86 L109.68,216.04 L110.32,216.22 L110.96,216.39 L111.59,216.57 L112.23,216.74 L112.87,216.92 L113.51,217.09 L114.15,217.26 L114.79,217.42 L115.43,217.59 L116.07,217.74 L116.71,217.90 L117.35,218.05 L117.99,218.19 L118.63,218.33 L119.26,218.46 L119.90,218.58 L120.54,218.70 L121.18,218.80 L121.82,218.88 L122.46,218.95 L123.10,219.01 L123.74,219.04 L124.38,219.05 L125.02,219.04 L125.66,219.00 L126.30,218.94 L126.94,218.84 L127.57,218.71 L128.21,218.55 L128.85,218.35 L129.49,218.11 L130.13,217.84 L130.77,217.54 L131.41,217.20 L132.05,216.83 L132.69,216.45 L133.33,216.04 L133.97,215.62 L134.60,215.20 L135.24,214.77 L135.88,214.35 L136.52,213.95 L137.16,213.56 L137.80,213.20 L138.44,212.87 L139.08,212.56 L139.72,212.29 L140.36,212.06 L141.00,211.86 L141.64,211.70 L142.28,211.56 L142.91,211.47 L143.55,211.40 L144.19,211.36 L144.83,211.35 L145.47,211.36 L146.11,211.39 L146.75,211.45 L147.39,211.52 L148.03,211.61 L148.67,211.71 L149.31,211.83 L149.94,211.96 L150.58,212.09 L151.22,212.24 L151.86,212.40 L152.50,212.56 L153.14,212.73 L153.78,212.90 L154.42,213.08 L155.06,213.26 L155.70,213.45 L156.34,213.63 L156.98,213.83 L157.62,214.02 L158.25,214.21 L158.89,214.41 L159.53,214.61 L160.17,214.80 L160.81,215.00 L161.45,215.20 L162.09,215.40 L162.73,215.60 L163.37,215.79 L164.01,215.99 L164.65,216.19 L165.28,216.38 L165.92,216.57 L166.56,216.77 L167.20,216.95 L167.84,217.14 L168.48,217.32 L169.12,217.50 L169.76,217.67 L170.40,217.84 L171.04,218.00 L171.68,218.16 L172.32,218.31 L172.96,218.44 L173.59,218.57 L174.23,218.69 L174.87,218.79 L175.51,218.88 L176.15,218.95 L176.79,219.01 L177.43,219.04 L178.07,219.05 L178.71,219.04 L179.35,219.00 L179.99,218.93 L180.62,218.84 L181.26,218.70 L181.90,218.54 L182.54,218.34 L183.18,218.11 L183.82,217.84 L184.46,217.53 L185.10,217.20 L185.74,216.84 L186.38,216.45 L187.02,216.05 L187.66,215.63 L188.30,215.20 L188.93,214.78 L189.57,214.36 L190.21,213.95 L190.85,213.57 L191.49,213.20 L192.13,212.86 L192.77,212.56 L193.41,212.29 L194.05,212.05 L194.69,211.85 L195.33,211.69 L195.97,211.56 L196.60,211.46 L197.24,211.40 L197.88,211.36 L198.52,211.35 L199.16,211.36 L199.80,211.39 L200.44,211.45 L201.08,211.52 L201.72,211.60 L202.36,211.70 L203.00,211.82 L203.64,211.94 L204.27,212.07 L204.91,212.21 L205.55,212.35 L206.19,212.50 L206.83,212.66 L207.47,212.81 L208.11,212.98 L208.75,213.14 L209.39,213.31 L210.03,213.48 L210.67,213.66 L211.31,213.83 L211.94,214.01 L212.58,214.18 L213.22,214.36 L213.86,214.54 L214.50,214.73 L215.14,214.91 L215.78,215.09 L216.42,215.28 L217.06,215.47 L217.70,215.65 L218.34,215.84 L218.97,216.03 L219.61,216.22 L220.25,216.41 L220.89,216.60 L221.53,216.79 L222.17,216.98 L222.81,217.17 L223.45,217.36 L224.09,217.55 L224.73,217.73 L225.37,217.91 L226.01,218.08 L226.65,218.25 L227.28,218.41 L227.92,218.55 L228.56,218.69 L229.20,218.81 L229.84,218.91 L230.48,218.98 L231.12,219.03 L231.76,219.05 L232.40,219.04 L233.04,218.99 L233.68,218.90 L234.31,218.77 L234.95,218.59 L235.59,218.36 L236.23,218.09 L236.87,217.77 L237.51,217.42 L238.15,217.03 L238.79,216.61 L239.43,216.17 L240.07,215.72 L240.71,215.26 L241.35,214.81 L241.98,214.37 L242.62,213.96 L243.26,213.57 L243.90,213.21 L244.54,212.88 L245.18,212.58 L245.82,212.33 L246.46,212.10 L247.10,211.91 L247.74,211.75 L248.38,211.62 L249.02,211.52 L249.66,211.45 L250.29,211.39 L250.93,211.36 L251.57,211.35 L252.21,211.35 L252.85,211.37 L253.49,211.40 L254.13,211.44 L254.77,211.49 L255.41,211.55 L256.05,211.62 L256.69,211.70 L257.32,211.78 L257.96,211.87 L258.60,211.96 L259.24,212.06 L259.88,212.16 L260.52,212.26 L261.16,212.36 L261.80,212.47 L262.44,212.58 L263.08,212.69 L263.72,212.80 L264.36,212.92 L264.99,213.03 L265.63,213.15 L266.27,213.27 L266.91,213.39 L267.55,213.50 L268.19,213.62 L268.83,213.74 L269.47,213.86 L270.11,213.98 L270.75,214.10 L271.39,214.23 L272.03,214.35 L272.66,214.47 L273.30,214.59 L273.94,214.71 L274.58,214.83 L275.22,214.96 L275.86,215.08 L276.50,215.20"/></g>
<rect class="ax" x="46.4" y="168.2" width="230.1" height="94.0"/>
<text x="46.40" y="275.9" text-anchor="middle" class="tl">0</text>
<path class="tk" d="M110.32,262.2v-2.3 M110.32,168.2v2.3"/>
<text x="110.32" y="275.9" text-anchor="middle" class="tl">50</text>
<path class="tk" d="M174.23,262.2v-2.3 M174.23,168.2v2.3"/>
<text x="174.23" y="275.9" text-anchor="middle" class="tl">100</text>
<path class="tk" d="M238.15,262.2v-2.3 M238.15,168.2v2.3"/>
<text x="238.15" y="275.9" text-anchor="middle" class="tl">150</text>
<text x="43.1" y="266.7" text-anchor="end" class="tl">−1</text>
<path class="tk" d="M46.4,215.20h2.3 M276.5,215.20h-2.3"/>
<text x="43.1" y="219.7" text-anchor="end" class="tl">0</text>
<text x="43.1" y="172.7" text-anchor="end" class="tl">1</text>
</g>
<g>
<clipPath id="cU"><rect x="313.4" y="167.6" width="229.89999999999998" height="95.2"/></clipPath>
<g clip-path="url(#cU)"><path class="d" d="M313.40,215.20 L314.04,213.98 L314.68,212.77 L315.32,211.55 L315.95,210.33 L316.59,209.11 L317.23,207.89 L317.87,206.67 L318.51,205.45 L319.15,204.22 L319.79,202.99 L320.42,201.76 L321.06,200.52 L321.70,199.28 L322.34,198.04 L322.98,196.80 L323.62,195.55 L324.26,194.29 L324.89,193.04 L325.53,191.78 L326.17,190.51 L326.81,189.25 L327.45,187.98 L328.09,186.71 L328.73,185.45 L329.37,184.18 L330.00,182.91 L330.64,181.66 L331.28,180.41 L331.92,179.17 L332.56,177.95 L333.20,176.75 L333.84,175.57 L334.47,174.44 L335.11,173.34 L335.75,172.31 L336.39,171.34 L337.03,170.46 L337.67,169.69 L338.31,169.05 L338.94,168.57 L339.58,168.27 L340.22,168.21 L340.86,168.41 L341.50,168.93 L342.14,169.83 L342.78,171.16 L343.41,172.98 L344.05,175.35 L344.69,178.33 L345.33,181.95 L345.97,186.25 L346.61,191.22 L347.25,196.83 L347.88,202.98 L348.52,209.56 L349.16,216.41 L349.80,223.33 L350.44,230.10 L351.08,236.53 L351.72,242.42 L352.36,247.62 L352.99,252.04 L353.63,255.63 L354.27,258.39 L354.91,260.35 L355.55,261.57 L356.19,262.14 L356.83,262.13 L357.46,261.65 L358.10,260.77 L358.74,259.57 L359.38,258.11 L360.02,256.46 L360.66,254.65 L361.30,252.74 L361.93,250.75 L362.57,248.70 L363.21,246.63 L363.85,244.53 L364.49,242.44 L365.13,240.35 L365.77,238.28 L366.40,236.22 L367.04,234.18 L367.68,232.16 L368.32,230.17 L368.96,228.20 L369.60,226.25 L370.24,224.33 L370.88,222.42 L371.51,220.53 L372.15,218.66 L372.79,216.81 L373.43,214.97 L374.07,213.14 L374.71,211.32 L375.35,209.51 L375.98,207.70 L376.62,205.90 L377.26,204.10 L377.90,202.30 L378.54,200.51 L379.18,198.71 L379.82,196.92 L380.45,195.12 L381.09,193.32 L381.73,191.53 L382.37,189.74 L383.01,187.95 L383.65,186.17 L384.29,184.41 L384.92,182.66 L385.56,180.94 L386.20,179.25 L386.84,177.62 L387.48,176.04 L388.12,174.53 L388.76,173.12 L389.39,171.83 L390.03,170.68 L390.67,169.71 L391.31,168.95 L391.95,168.43 L392.59,168.21 L393.23,168.32 L393.86,168.83 L394.50,169.77 L395.14,171.21 L395.78,173.18 L396.42,175.72 L397.06,178.86 L397.70,182.61 L398.34,186.94 L398.97,191.82 L399.61,197.17 L400.25,202.92 L400.89,208.93 L401.53,215.07 L402.17,221.22 L402.81,227.21 L403.44,232.93 L404.08,238.26 L404.72,243.12 L405.36,247.44 L406.00,251.18 L406.64,254.34 L407.28,256.91 L407.91,258.93 L408.55,260.43 L409.19,261.44 L409.83,262.01 L410.47,262.20 L411.11,262.04 L411.75,261.58 L412.38,260.87 L413.02,259.92 L413.66,258.79 L414.30,257.49 L414.94,256.06 L415.58,254.51 L416.22,252.87 L416.85,251.14 L417.49,249.35 L418.13,247.51 L418.77,245.62 L419.41,243.69 L420.05,241.73 L420.69,239.75 L421.33,237.75 L421.96,235.73 L422.60,233.71 L423.24,231.67 L423.88,229.62 L424.52,227.57 L425.16,225.51 L425.80,223.45 L426.43,221.39 L427.07,219.33 L427.71,217.27 L428.35,215.20 L428.99,213.13 L429.63,211.07 L430.27,209.01 L430.90,206.95 L431.54,204.89 L432.18,202.83 L432.82,200.78 L433.46,198.73 L434.10,196.69 L434.74,194.67 L435.37,192.65 L436.01,190.65 L436.65,188.67 L437.29,186.71 L437.93,184.78 L438.57,182.89 L439.21,181.05 L439.84,179.26 L440.48,177.53 L441.12,175.89 L441.76,174.34 L442.40,172.91 L443.04,171.61 L443.68,170.48 L444.32,169.53 L444.95,168.82 L445.59,168.36 L446.23,168.20 L446.87,168.39 L447.51,168.96 L448.15,169.97 L448.79,171.47 L449.42,173.49 L450.06,176.06 L450.70,179.22 L451.34,182.96 L451.98,187.28 L452.62,192.14 L453.26,197.47 L453.89,203.19 L454.53,209.18 L455.17,215.33 L455.81,221.47 L456.45,227.48 L457.09,233.23 L457.73,238.58 L458.36,243.46 L459.00,247.79 L459.64,251.54 L460.28,254.68 L460.92,257.22 L461.56,259.19 L462.20,260.63 L462.83,261.57 L463.47,262.08 L464.11,262.19 L464.75,261.97 L465.39,261.45 L466.03,260.69 L466.67,259.72 L467.31,258.57 L467.94,257.28 L468.58,255.87 L469.22,254.36 L469.86,252.78 L470.50,251.15 L471.14,249.46 L471.78,247.74 L472.41,245.99 L473.05,244.23 L473.69,242.45 L474.33,240.66 L474.97,238.87 L475.61,237.08 L476.25,235.28 L476.88,233.48 L477.52,231.69 L478.16,229.89 L478.80,228.10 L479.44,226.30 L480.08,224.50 L480.72,222.70 L481.35,220.89 L481.99,219.08 L482.63,217.26 L483.27,215.43 L483.91,213.59 L484.55,211.74 L485.19,209.87 L485.82,207.98 L486.46,206.07 L487.10,204.15 L487.74,202.20 L488.38,200.23 L489.02,198.24 L489.66,196.22 L490.30,194.18 L490.93,192.12 L491.57,190.05 L492.21,187.96 L492.85,185.87 L493.49,183.77 L494.13,181.70 L494.77,179.65 L495.40,177.66 L496.04,175.75 L496.68,173.94 L497.32,172.29 L497.96,170.83 L498.60,169.63 L499.24,168.75 L499.87,168.27 L500.51,168.26 L501.15,168.83 L501.79,170.05 L502.43,172.01 L503.07,174.77 L503.71,178.36 L504.34,182.78 L504.98,187.98 L505.62,193.87 L506.26,200.30 L506.90,207.07 L507.54,213.99 L508.18,220.84 L508.81,227.42 L509.45,233.57 L510.09,239.18 L510.73,244.15 L511.37,248.45 L512.01,252.07 L512.65,255.05 L513.29,257.42 L513.92,259.24 L514.56,260.57 L515.20,261.47 L515.84,261.99 L516.48,262.19 L517.12,262.13 L517.76,261.83 L518.39,261.35 L519.03,260.71 L519.67,259.94 L520.31,259.06 L520.95,258.09 L521.59,257.06 L522.23,255.96 L522.86,254.83 L523.50,253.65 L524.14,252.45 L524.78,251.23 L525.42,249.99 L526.06,248.74 L526.70,247.49 L527.33,246.22 L527.97,244.95 L528.61,243.69 L529.25,242.42 L529.89,241.15 L530.53,239.89 L531.17,238.62 L531.80,237.36 L532.44,236.11 L533.08,234.85 L533.72,233.60 L534.36,232.36 L535.00,231.12 L535.64,229.88 L536.28,228.64 L536.91,227.41 L537.55,226.18 L538.19,224.95 L538.83,223.73 L539.47,222.51 L540.11,221.29 L540.75,220.07 L541.38,218.85 L542.02,217.63 L542.66,216.42 L543.30,215.20"/><path class="s" d="M313.40,215.20 L314.04,216.69 L314.68,218.18 L315.32,219.67 L315.95,221.15 L316.59,222.64 L317.23,224.12 L317.87,225.61 L318.51,227.09 L319.15,228.56 L319.79,230.04 L320.42,231.51 L321.06,232.97 L321.70,234.43 L322.34,235.88 L322.98,237.33 L323.62,238.77 L324.26,240.20 L324.89,241.61 L325.53,243.02 L326.17,244.41 L326.81,245.78 L327.45,247.14 L328.09,248.47 L328.73,249.78 L329.37,251.06 L330.00,252.31 L330.64,253.52 L331.28,254.69 L331.92,255.81 L332.56,256.88 L333.20,257.88 L333.84,258.81 L334.47,259.65 L335.11,260.40 L335.75,261.04 L336.39,261.56 L337.03,261.94 L337.67,262.15 L338.31,262.19 L338.94,262.03 L339.58,261.63 L340.22,260.99 L340.86,260.06 L341.50,258.83 L342.14,257.26 L342.78,255.32 L343.41,252.99 L344.05,250.26 L344.69,247.10 L345.33,243.52 L345.97,239.52 L346.61,235.12 L347.25,230.35 L347.88,225.27 L348.52,219.94 L349.16,214.46 L349.80,208.91 L350.44,203.40 L351.08,198.04 L351.72,192.92 L352.36,188.16 L352.99,183.82 L353.63,179.97 L354.27,176.65 L354.91,173.90 L355.55,171.71 L356.19,170.07 L356.83,168.97 L357.46,168.36 L358.10,168.20 L358.74,168.46 L359.38,169.08 L360.02,170.01 L360.66,171.22 L361.30,172.65 L361.93,174.29 L362.57,176.08 L363.21,178.01 L363.85,180.04 L364.49,182.16 L365.13,184.34 L365.77,186.58 L366.40,188.85 L367.04,191.15 L367.68,193.46 L368.32,195.78 L368.96,198.11 L369.60,200.44 L370.24,202.76 L370.88,205.08 L371.51,207.39 L372.15,209.68 L372.79,211.97 L373.43,214.24 L374.07,216.50 L374.71,218.75 L375.35,220.98 L375.98,223.19 L376.62,225.40 L377.26,227.58 L377.90,229.75 L378.54,231.90 L379.18,234.03 L379.82,236.14 L380.45,238.23 L381.09,240.28 L381.73,242.30 L382.37,244.29 L383.01,246.23 L383.65,248.12 L384.29,249.95 L384.92,251.72 L385.56,253.40 L386.20,254.99 L386.84,256.47 L387.48,257.83 L388.12,259.05 L388.76,260.10 L389.39,260.97 L390.03,261.63 L390.67,262.04 L391.31,262.20 L391.95,262.06 L392.59,261.60 L393.23,260.79 L393.86,259.60 L394.50,258.01 L395.14,256.01 L395.78,253.57 L396.42,250.69 L397.06,247.39 L397.70,243.68 L398.34,239.58 L398.97,235.14 L399.61,230.40 L400.25,225.44 L400.89,220.33 L401.53,215.14 L402.17,209.96 L402.81,204.86 L403.44,199.92 L404.08,195.22 L404.72,190.80 L405.36,186.73 L406.00,183.04 L406.64,179.76 L407.28,176.90 L407.91,174.47 L408.55,172.46 L409.19,170.86 L409.83,169.66 L410.47,168.83 L411.11,168.35 L411.75,168.20 L412.38,168.34 L413.02,168.76 L413.66,169.42 L414.30,170.31 L414.94,171.39 L415.58,172.66 L416.22,174.08 L416.85,175.64 L417.49,177.33 L418.13,179.12 L418.77,181.02 L419.41,182.99 L420.05,185.04 L420.69,187.16 L421.33,189.33 L421.96,191.55 L422.60,193.81 L423.24,196.11 L423.88,198.43 L424.52,200.78 L425.16,203.16 L425.80,205.55 L426.43,207.95 L427.07,210.36 L427.71,212.78 L428.35,215.20 L428.99,217.62 L429.63,220.04 L430.27,222.45 L430.90,224.85 L431.54,227.24 L432.18,229.62 L432.82,231.97 L433.46,234.29 L434.10,236.59 L434.74,238.85 L435.37,241.07 L436.01,243.24 L436.65,245.36 L437.29,247.41 L437.93,249.38 L438.57,251.28 L439.21,253.07 L439.84,254.76 L440.48,256.32 L441.12,257.74 L441.76,259.01 L442.40,260.09 L443.04,260.98 L443.68,261.64 L444.32,262.06 L444.95,262.20 L445.59,262.05 L446.23,261.57 L446.87,260.74 L447.51,259.54 L448.15,257.94 L448.79,255.93 L449.42,253.50 L450.06,250.64 L450.70,247.36 L451.34,243.67 L451.98,239.60 L452.62,235.18 L453.26,230.48 L453.89,225.54 L454.53,220.44 L455.17,215.26 L455.81,210.07 L456.45,204.96 L457.09,200.00 L457.73,195.26 L458.36,190.82 L459.00,186.72 L459.64,183.01 L460.28,179.71 L460.92,176.83 L461.56,174.39 L462.20,172.39 L462.83,170.80 L463.47,169.61 L464.11,168.80 L464.75,168.34 L465.39,168.20 L466.03,168.36 L466.67,168.77 L467.31,169.43 L467.94,170.30 L468.58,171.35 L469.22,172.57 L469.86,173.93 L470.50,175.41 L471.14,177.00 L471.78,178.68 L472.41,180.45 L473.05,182.28 L473.69,184.17 L474.33,186.11 L474.97,188.10 L475.61,190.12 L476.25,192.17 L476.88,194.26 L477.52,196.37 L478.16,198.50 L478.80,200.65 L479.44,202.82 L480.08,205.00 L480.72,207.21 L481.35,209.42 L481.99,211.65 L482.63,213.90 L483.27,216.16 L483.91,218.43 L484.55,220.72 L485.19,223.01 L485.82,225.32 L486.46,227.64 L487.10,229.96 L487.74,232.29 L488.38,234.62 L489.02,236.94 L489.66,239.25 L490.30,241.55 L490.93,243.82 L491.57,246.06 L492.21,248.24 L492.85,250.36 L493.49,252.39 L494.13,254.32 L494.77,256.11 L495.40,257.75 L496.04,259.18 L496.68,260.39 L497.32,261.32 L497.96,261.94 L498.60,262.20 L499.24,262.04 L499.87,261.43 L500.51,260.33 L501.15,258.69 L501.79,256.50 L502.43,253.75 L503.07,250.43 L503.71,246.58 L504.34,242.24 L504.98,237.48 L505.62,232.36 L506.26,227.00 L506.90,221.49 L507.54,215.94 L508.18,210.46 L508.81,205.13 L509.45,200.05 L510.09,195.28 L510.73,190.88 L511.37,186.88 L512.01,183.30 L512.65,180.14 L513.29,177.41 L513.92,175.08 L514.56,173.14 L515.20,171.57 L515.84,170.34 L516.48,169.41 L517.12,168.77 L517.76,168.37 L518.39,168.21 L519.03,168.25 L519.67,168.46 L520.31,168.84 L520.95,169.36 L521.59,170.00 L522.23,170.75 L522.86,171.59 L523.50,172.52 L524.14,173.52 L524.78,174.59 L525.42,175.71 L526.06,176.88 L526.70,178.09 L527.33,179.34 L527.97,180.62 L528.61,181.93 L529.25,183.26 L529.89,184.62 L530.53,185.99 L531.17,187.38 L531.80,188.79 L532.44,190.20 L533.08,191.63 L533.72,193.07 L534.36,194.52 L535.00,195.97 L535.64,197.43 L536.28,198.89 L536.91,200.36 L537.55,201.84 L538.19,203.31 L538.83,204.79 L539.47,206.28 L540.11,207.76 L540.75,209.25 L541.38,210.73 L542.02,212.22 L542.66,213.71 L543.30,215.20"/></g>
<rect class="ax" x="313.4" y="168.2" width="229.9" height="94.0"/>
<text x="313.40" y="275.9" text-anchor="middle" class="tl">0</text>
<path class="tk" d="M377.26,262.2v-2.3 M377.26,168.2v2.3"/>
<text x="377.26" y="275.9" text-anchor="middle" class="tl">50</text>
<path class="tk" d="M441.12,262.2v-2.3 M441.12,168.2v2.3"/>
<text x="441.12" y="275.9" text-anchor="middle" class="tl">100</text>
<path class="tk" d="M504.98,262.2v-2.3 M504.98,168.2v2.3"/>
<text x="504.98" y="275.9" text-anchor="middle" class="tl">150</text>
<text x="310.1" y="266.7" text-anchor="end" class="tl">−1</text>
<path class="tk" d="M313.4,215.20h2.3 M543.3,215.20h-2.3"/>
<text x="310.1" y="219.7" text-anchor="end" class="tl">0</text>
<text x="310.1" y="172.7" text-anchor="end" class="tl">1</text>
</g>
<text x="161.4" y="9.2" text-anchor="middle">Single PW DCS</text>
<text x="399.4" y="9.2" class="it">T</text><text x="408.3" y="9.2">parameter</text>
<text x="131.6" y="159.3" class="it">S</text><text x="142.2" y="159.3">parameter</text>
<text x="398.0" y="159.3" class="it">U</text><text x="409.4" y="159.3">parameter</text>
<text x="161.4" y="292.7" text-anchor="middle">θ/deg</text>
<text x="428.3" y="292.7" text-anchor="middle">θ/deg</text>
<g transform="translate(12.9,76.2) rotate(-90)"><text x="0" y="0">[ <tspan class="it">a</tspan></text><text x="13.6" y="-7.3" style="font-size:8.3px">2</text><text x="13.6" y="5.7" style="font-size:8.3px">0</text><text x="19.6" y="0">]</text></g>
</svg></body></html>
